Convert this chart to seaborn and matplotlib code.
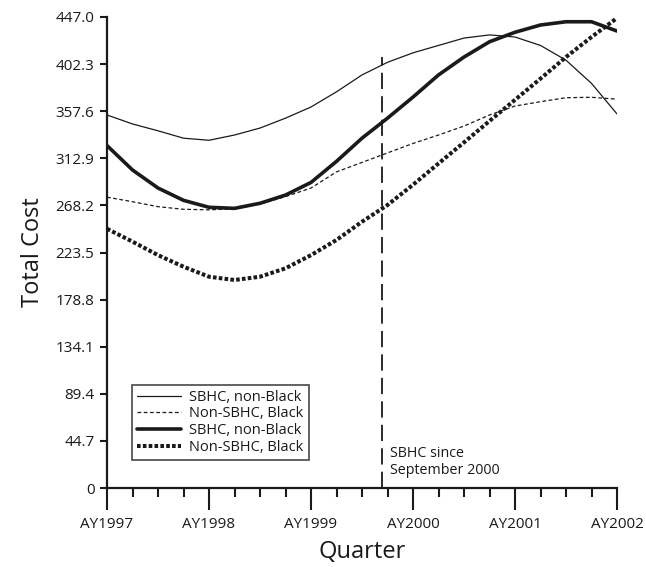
"""Total cost by quarter, SBHC vs non-SBHC, redrawn with seaborn."""

import matplotlib

matplotlib.use("Agg")
import matplotlib.pyplot as plt
import pandas as pd
import seaborn as sns
from matplotlib.ticker import FixedLocator, MultipleLocator

# quarters since AY1997 (0..20)
quarters = list(range(21))

sbhc_nonblack_thin = [354, 345.5, 339, 332, 330, 335, 341.6, 351, 361.6, 376, 392,
                      404, 413, 420, 427, 430, 428, 420, 406, 384, 355]
nonsbhc_black_thin = [276, 271.7, 267, 264.5, 264, 265, 269.5, 276.5, 284.7, 300, 309,
                      318, 327, 335, 343.5, 354, 362.5, 366.6, 370.4, 370.8, 369]
sbhc_nonblack_thick = [325, 301.8, 284.7, 273, 266.4, 265.4, 270.2, 278, 290, 310, 332,
                       351, 371, 392, 409, 423.5, 432.5, 439.4, 442.5, 442.5, 433.7]
nonsbhc_black_thick = [246, 233.8, 221, 210, 200.5, 197.4, 200.5, 208.5, 221, 235.4, 252.7,
                       268.6, 287.8, 308, 328, 348.3, 368.4, 388.5, 409, 428, 446]

series_names = ["SBHC, non-Black", "Non-SBHC, Black", "SBHC, non-Black", "Non-SBHC, Black"]
y_ticks = [0, 44.7, 89.4, 134.1, 178.8, 223.5, 268.2, 312.9, 357.6, 402.3, 447.0]
y_tick_labels = ["0", "44.7", "89.4", "134.1", "178.8", "223.5", "268.2",
                 "312.9", "357.6", "402.3", "447.0"]
x_major = [0, 4, 8, 12, 16, 20]
x_labels = ["AY1997", "AY1998", "AY1999", "AY2000", "AY2001", "AY2002"]
cutoff_quarter = 10.8
cutoff_top = 409

sns.set_theme(style="ticks")
plt.rcParams["font.family"] = ["Open Sans", "DejaVu Sans"]

fig = plt.figure(figsize=(6.46, 5.67), dpi=100)
ax = fig.add_axes([107 / 646, 1 - 488 / 567, 510 / 646, 471 / 567])

ink = "#1a1a1a"
styles = [
    dict(lw=0.9, ls="-"),
    dict(lw=0.9, ls=(0, (3, 2))),
    dict(lw=2.6, ls="-"),
    dict(lw=2.9, ls=(0, (0.9, 0.55))),
]
all_series = [sbhc_nonblack_thin, nonsbhc_black_thin, sbhc_nonblack_thick, nonsbhc_black_thick]

for name, vals, st in zip(series_names, all_series, styles):
    df = pd.DataFrame({"quarter": quarters, "cost": vals})
    sns.lineplot(data=df, x="quarter", y="cost", ax=ax, color=ink,
                 linewidth=st["lw"], linestyle=st["ls"], label=name)

# program start marker
ax.plot([cutoff_quarter, cutoff_quarter], [0, cutoff_top], color=ink, lw=1.3,
        ls=(0, (9, 4)))
ax.text(cutoff_quarter + 0.3, 9.5, "SBHC since\nSeptember 2000", fontsize=10.3,
        ha="left", va="bottom", color=ink, linespacing=1.2)

ax.set_xlim(0, 20)
ax.set_ylim(0, 447)
ax.xaxis.set_major_locator(FixedLocator(x_major))
ax.xaxis.set_minor_locator(MultipleLocator(1))
ax.set_xticklabels(x_labels)
ax.set_yticks(y_ticks)
ax.set_yticklabels(y_tick_labels)

ax.tick_params(axis="x", which="major", length=16, width=1.5, colors=ink,
               labelsize=11, pad=5)
ax.tick_params(axis="x", which="minor", length=6.5, width=1.5, colors=ink)
ax.tick_params(axis="y", which="major", length=5, width=1.5, colors=ink,
               labelsize=11, pad=4)

for side in ["top", "right"]:
    ax.spines[side].set_visible(False)
for side in ["left", "bottom"]:
    ax.spines[side].set_linewidth(1.6)
    ax.spines[side].set_color(ink)
ax.spines["bottom"].set_zorder(5)

ax.set_xlabel("Quarter", fontsize=17, color=ink, labelpad=6)
ax.set_ylabel("Total Cost", fontsize=17, color=ink, labelpad=8)

leg = ax.legend(loc="lower left", bbox_to_anchor=(0.04, 0.05), fontsize=10.5,
                frameon=True, fancybox=False, handlelength=3.0, handletextpad=0.6,
                borderpad=0.35, labelspacing=0.12, borderaxespad=0.3)
leg.get_frame().set_edgecolor(ink)
leg.get_frame().set_linewidth(1.2)
for t in leg.get_texts():
    t.set_color(ink)

fig.savefig("out.png", dpi=100)
